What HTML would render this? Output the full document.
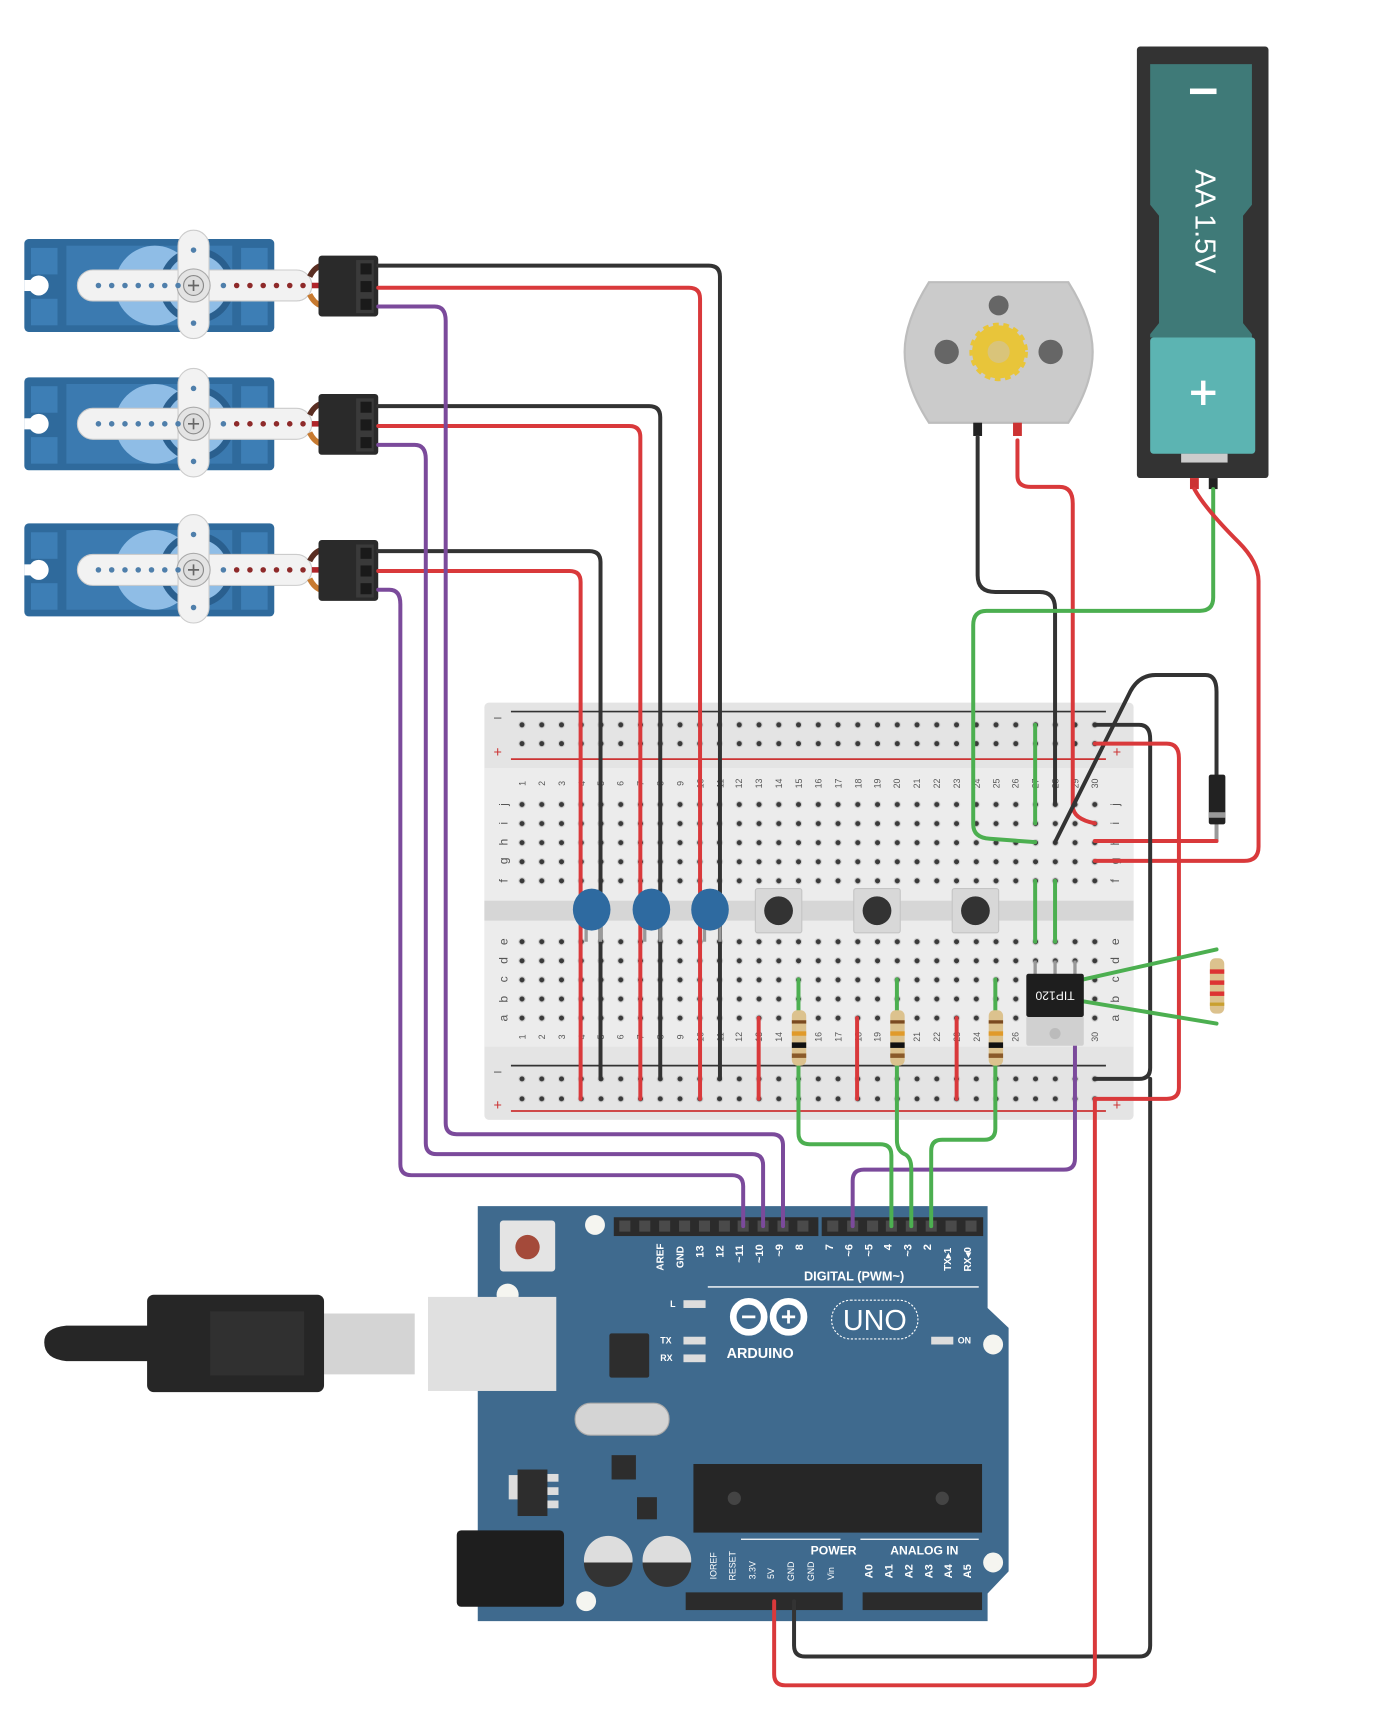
<!DOCTYPE html>
<html><head><meta charset="utf-8"><style>
html,body{margin:0;padding:0;background:#fff;}
svg{display:block;}
text{font-family:"Liberation Sans",sans-serif;}
</style></head><body>
<svg width="1399" height="1734" viewBox="0 0 1265 1567" preserveAspectRatio="none" xmlns="http://www.w3.org/2000/svg">
<defs>
<pattern id="pr1" patternUnits="userSpaceOnUse" x="463.07" y="646.5" width="17.86" height="17"><circle cx="8.93" cy="8.5" r="3.3" fill="#cfcfcf"/><circle cx="8.93" cy="8.5" r="2.3" fill="#3a3a3a"/></pattern>
<pattern id="pr2" patternUnits="userSpaceOnUse" x="463.07" y="718.4" width="17.86" height="17.25"><circle cx="8.93" cy="8.6" r="3.3" fill="#cfcfcf"/><circle cx="8.93" cy="8.6" r="2.3" fill="#3a3a3a"/></pattern>
<pattern id="pr3" patternUnits="userSpaceOnUse" x="463.07" y="842.4" width="17.86" height="17.25"><circle cx="8.93" cy="8.6" r="3.3" fill="#cfcfcf"/><circle cx="8.93" cy="8.6" r="2.3" fill="#3a3a3a"/></pattern>
<pattern id="pr4" patternUnits="userSpaceOnUse" x="463.07" y="966" width="17.86" height="18"><circle cx="8.93" cy="9" r="3.3" fill="#cfcfcf"/><circle cx="8.93" cy="9" r="2.3" fill="#3a3a3a"/></pattern>
<g id="servo">
<rect x="22" y="216" width="226" height="84" rx="4" fill="#2f6a9c"/>
<rect x="60" y="222" width="150" height="72" fill="#3b7ab0"/>
<rect x="28" y="224" width="24" height="24" fill="#3d7eb5"/><rect x="28" y="270" width="24" height="24" fill="#3d7eb5"/>
<rect x="218" y="224" width="24" height="24" fill="#3d7eb5"/><rect x="218" y="270" width="24" height="24" fill="#3d7eb5"/>
<circle cx="35" cy="258" r="9" fill="#fff"/><rect x="22" y="253" width="12" height="10" fill="#fff"/>
<circle cx="140" cy="258" r="36" fill="#8fbde6"/><circle cx="178" cy="258" r="34" fill="#2a5f8e"/><circle cx="178" cy="258" r="28" fill="#8fbde6"/>
<rect x="70" y="244" width="212" height="28" rx="14" fill="#f2f2f2" stroke="#ccc"/>
<rect x="161" y="208" width="28" height="98" rx="14" fill="#f2f2f2" stroke="#ccc"/>
<circle cx="175" cy="258" r="15" fill="#e4e4e4" stroke="#aaa"/><circle cx="175" cy="258" r="9" fill="#ddd" stroke="#888"/>
<path d="M170 258h10M175 253v10" stroke="#666" stroke-width="1.5"/>
<g fill="#4f7fab"><circle cx="89" cy="258" r="2.5"/><circle cx="101" cy="258" r="2.5"/><circle cx="113" cy="258" r="2.5"/><circle cx="125" cy="258" r="2.5"/><circle cx="137" cy="258" r="2.5"/><circle cx="149" cy="258" r="2.5"/><circle cx="161" cy="258" r="2.5"/><circle cx="202" cy="258" r="2.5"/><circle cx="175" cy="226" r="2.5"/><circle cx="175" cy="292" r="2.5"/></g>
<g fill="#8e2a2a"><circle cx="214" cy="258" r="2.5"/><circle cx="226" cy="258" r="2.5"/><circle cx="238" cy="258" r="2.5"/><circle cx="250" cy="258" r="2.5"/><circle cx="262" cy="258" r="2.5"/><circle cx="274" cy="258" r="2.5"/></g>
<path d="M280 250 Q284 242 290 240" stroke="#5a2e22" stroke-width="5" fill="none"/>
<path d="M282 258 H290" stroke="#b0252a" stroke-width="5"/>
<path d="M280 266 Q284 274 290 276" stroke="#c77a30" stroke-width="5" fill="none"/>
<rect x="288" y="231" width="54" height="55" rx="3" fill="#2a2a2a"/>
<rect x="322" y="235" width="16" height="48" fill="#3a3a3a"/>
<rect x="326" y="238" width="10" height="10" fill="#1a1a1a"/><rect x="326" y="254" width="10" height="10" fill="#1a1a1a"/><rect x="326" y="270" width="10" height="10" fill="#1a1a1a"/>
</g>
</defs>

<use href="#servo"/>
<use href="#servo" transform="translate(0,125)"/>
<use href="#servo" transform="translate(0,257)"/>

<path d="M840 255 H966 Q988 290 988 318 Q988 348 966 382 H840 Q818 348 818 318 Q818 290 840 255Z" fill="#cbcbcb" stroke="#bdbdbd" stroke-width="2"/>
<circle cx="903" cy="276" r="9" fill="#666"/><circle cx="856" cy="318" r="11" fill="#666"/><circle cx="950" cy="318" r="11" fill="#666"/>
<circle cx="903" cy="318" r="24" fill="#e8c53a" stroke="#e8c53a" stroke-width="5" stroke-dasharray="5 4"/>
<circle cx="903" cy="318" r="10" fill="#d9c47a"/>
<rect x="880" y="382" width="8" height="12" fill="#222"/><rect x="916" y="382" width="8" height="12" fill="#c33"/>

<rect x="1028" y="42" width="119" height="390" rx="3" fill="#333"/>
<path d="M1045 58 H1132 V185 L1124 195 V292 L1132 302 V305 H1040 V302 L1048 292 V195 L1040 185 V58Z" fill="#3f7a78"/>
<rect x="1040" y="305" width="95" height="105" rx="3" fill="#5cb4b2"/>
<rect x="1068" y="410" width="42" height="8" fill="#ccc"/>
<rect x="1076" y="80" width="24" height="5" fill="#fff"/>
<text x="1088" y="200" transform="rotate(90 1088 200)" text-anchor="middle" dominant-baseline="middle" font-size="26" fill="#fff">AA 1.5V</text>
<path d="M1077 355 H1099 M1088 344 V366" stroke="#fff" stroke-width="4"/>
<rect x="1076" y="432" width="8" height="10" fill="#c33"/><rect x="1093" y="432" width="8" height="10" fill="#222"/>

<rect x="438" y="635" width="587" height="377" rx="4" fill="#e4e4e4"/>
<rect x="438" y="694" width="587" height="120" fill="#ececec"/>
<rect x="438" y="814" width="587" height="18" fill="#d6d6d6"/>
<rect x="438" y="832" width="587" height="114" fill="#ececec"/>
<path d="M462 643 H1000" stroke="#333" stroke-width="1.5"/>
<path d="M462 686 H1000" stroke="#c33" stroke-width="1.5"/>
<path d="M462 963 H1000" stroke="#333" stroke-width="1.5"/>
<path d="M462 1004 H1000" stroke="#c33" stroke-width="1.5"/>
<text x="450" y="652" font-size="12" fill="#444" text-anchor="middle">–</text>
<text x="450" y="684" font-size="13" fill="#c33" text-anchor="middle">+</text>
<text x="450" y="972" font-size="12" fill="#444" text-anchor="middle">–</text>
<text x="450" y="1003" font-size="13" fill="#c33" text-anchor="middle">+</text>
<text x="1010" y="684" font-size="13" fill="#c33" text-anchor="middle">+</text>
<text x="1010" y="1003" font-size="13" fill="#c33" text-anchor="middle">+</text>
<rect x="463" y="646.5" width="536" height="34" fill="url(#pr1)"/>
<rect x="463" y="718.4" width="536" height="86.25" fill="url(#pr2)"/>
<rect x="463" y="842.4" width="536" height="86.25" fill="url(#pr3)"/>
<rect x="463" y="966" width="536" height="36" fill="url(#pr4)"/>
<g font-size="8" fill="#555" text-anchor="middle">
<g id="nums">
<text x="472" y="711" transform="rotate(-90 472 708)">1</text><text x="490" y="711" transform="rotate(-90 490 708)">2</text><text x="508" y="711" transform="rotate(-90 508 708)">3</text><text x="526" y="711" transform="rotate(-90 526 708)">4</text><text x="543" y="711" transform="rotate(-90 543 708)">5</text><text x="561" y="711" transform="rotate(-90 561 708)">6</text><text x="579" y="711" transform="rotate(-90 579 708)">7</text><text x="597" y="711" transform="rotate(-90 597 708)">8</text><text x="615" y="711" transform="rotate(-90 615 708)">9</text><text x="633" y="711" transform="rotate(-90 633 708)">10</text><text x="651" y="711" transform="rotate(-90 651 708)">11</text><text x="668" y="711" transform="rotate(-90 668 708)">12</text><text x="686" y="711" transform="rotate(-90 686 708)">13</text><text x="704" y="711" transform="rotate(-90 704 708)">14</text><text x="722" y="711" transform="rotate(-90 722 708)">15</text><text x="740" y="711" transform="rotate(-90 740 708)">16</text><text x="758" y="711" transform="rotate(-90 758 708)">17</text><text x="776" y="711" transform="rotate(-90 776 708)">18</text><text x="793" y="711" transform="rotate(-90 793 708)">19</text><text x="811" y="711" transform="rotate(-90 811 708)">20</text><text x="829" y="711" transform="rotate(-90 829 708)">21</text><text x="847" y="711" transform="rotate(-90 847 708)">22</text><text x="865" y="711" transform="rotate(-90 865 708)">23</text><text x="883" y="711" transform="rotate(-90 883 708)">24</text><text x="901" y="711" transform="rotate(-90 901 708)">25</text><text x="918" y="711" transform="rotate(-90 918 708)">26</text><text x="936" y="711" transform="rotate(-90 936 708)">27</text><text x="954" y="711" transform="rotate(-90 954 708)">28</text><text x="972" y="711" transform="rotate(-90 972 708)">29</text><text x="990" y="711" transform="rotate(-90 990 708)">30</text>
</g>
<use href="#nums" transform="translate(0,229)"/>
</g>
<g font-size="11" fill="#555" text-anchor="middle">
<text x="455" y="731" transform="rotate(-90 455 727)">j</text><text x="455" y="748" transform="rotate(-90 455 744)">i</text><text x="455" y="765" transform="rotate(-90 455 761)">h</text><text x="455" y="782" transform="rotate(-90 455 778)">g</text><text x="455" y="800" transform="rotate(-90 455 796)">f</text>
<text x="455" y="855" transform="rotate(-90 455 851)">e</text><text x="455" y="872" transform="rotate(-90 455 868)">d</text><text x="455" y="889" transform="rotate(-90 455 885)">c</text><text x="455" y="907" transform="rotate(-90 455 903)">b</text><text x="455" y="924" transform="rotate(-90 455 920)">a</text>
<text x="1008" y="731" transform="rotate(-90 1008 727)">j</text><text x="1008" y="748" transform="rotate(-90 1008 744)">i</text><text x="1008" y="765" transform="rotate(-90 1008 761)">h</text><text x="1008" y="782" transform="rotate(-90 1008 778)">g</text><text x="1008" y="800" transform="rotate(-90 1008 796)">f</text>
<text x="1008" y="855" transform="rotate(-90 1008 851)">e</text><text x="1008" y="872" transform="rotate(-90 1008 868)">d</text><text x="1008" y="889" transform="rotate(-90 1008 885)">c</text><text x="1008" y="907" transform="rotate(-90 1008 903)">b</text><text x="1008" y="924" transform="rotate(-90 1008 920)">a</text>
</g>

<path d="M432 1090 H893 V1182 L912 1200 V1420 L893 1440 V1465 H432Z" fill="#3f6a8e"/>
<rect x="555" y="1100" width="185" height="17" fill="#2b2b2b"/><rect x="743" y="1100" width="146" height="17" fill="#2b2b2b"/>
<g fill="#4a4a4a">
<rect x="560" y="1103" width="10" height="10"/><rect x="578" y="1103" width="10" height="10"/><rect x="596" y="1103" width="10" height="10"/><rect x="614" y="1103" width="10" height="10"/><rect x="632" y="1103" width="10" height="10"/><rect x="650" y="1103" width="10" height="10"/><rect x="667" y="1103" width="10" height="10"/><rect x="685" y="1103" width="10" height="10"/><rect x="703" y="1103" width="10" height="10"/><rect x="721" y="1103" width="10" height="10"/>
<rect x="748" y="1103" width="10" height="10"/><rect x="766" y="1103" width="10" height="10"/><rect x="784" y="1103" width="10" height="10"/><rect x="801" y="1103" width="10" height="10"/><rect x="819" y="1103" width="10" height="10"/><rect x="837" y="1103" width="10" height="10"/><rect x="855" y="1103" width="10" height="10"/><rect x="873" y="1103" width="10" height="10"/>
</g>
<rect x="620" y="1439" width="142" height="16" fill="#2b2b2b"/><rect x="780" y="1439" width="108" height="16" fill="#2b2b2b"/>
<g fill="#fff" font-size="10" font-weight="bold">
<text x="604" y="1140" transform="rotate(-90 600 1140)" text-anchor="middle" font-size="9">AREF</text>
<text x="622" y="1140" transform="rotate(-90 618 1140)" text-anchor="middle" font-size="9">GND</text>
<text x="640" y="1135" transform="rotate(-90 636 1135)" text-anchor="middle">13</text>
<text x="658" y="1135" transform="rotate(-90 654 1135)" text-anchor="middle">12</text>
<text x="676" y="1137" transform="rotate(-90 672 1137)" text-anchor="middle">~11</text>
<text x="694" y="1137" transform="rotate(-90 690 1137)" text-anchor="middle">~10</text>
<text x="712" y="1134" transform="rotate(-90 708 1134)" text-anchor="middle">~9</text>
<text x="730" y="1131" transform="rotate(-90 726 1131)" text-anchor="middle">8</text>
<text x="757" y="1131" transform="rotate(-90 753 1131)" text-anchor="middle">7</text>
<text x="775" y="1134" transform="rotate(-90 771 1134)" text-anchor="middle">~6</text>
<text x="793" y="1134" transform="rotate(-90 789 1134)" text-anchor="middle">~5</text>
<text x="810" y="1131" transform="rotate(-90 806 1131)" text-anchor="middle">4</text>
<text x="828" y="1134" transform="rotate(-90 824 1134)" text-anchor="middle">~3</text>
<text x="846" y="1131" transform="rotate(-90 842 1131)" text-anchor="middle">2</text>
<text x="864" y="1142" transform="rotate(-90 860 1142)" text-anchor="middle" font-size="9">TX▸1</text>
<text x="882" y="1142" transform="rotate(-90 878 1142)" text-anchor="middle" font-size="9">RX◂0</text>
<text x="727" y="1157" font-size="11.5">DIGITAL (PWM~)</text>
<text x="606" y="1181" font-size="8">L</text><text x="597" y="1214" font-size="8">TX</text><text x="597" y="1230" font-size="8">RX</text>
<text x="866" y="1214" font-size="8">ON</text>
<text x="657" y="1227" font-size="13">ARDUINO</text>
<text x="733" y="1405" font-size="11">POWER</text>
<text x="805" y="1405" font-size="11">ANALOG IN</text>
<g font-size="8" font-weight="normal">
<text x="651" y="1418" transform="rotate(-90 648 1418)" text-anchor="middle">IOREF</text>
<text x="668" y="1418" transform="rotate(-90 665 1418)" text-anchor="middle">RESET</text>
<text x="686" y="1422" transform="rotate(-90 683 1422)" text-anchor="middle">3.3V</text>
<text x="703" y="1425" transform="rotate(-90 700 1425)" text-anchor="middle">5V</text>
<text x="721" y="1423" transform="rotate(-90 718 1423)" text-anchor="middle">GND</text>
<text x="739" y="1423" transform="rotate(-90 736 1423)" text-anchor="middle">GND</text>
<text x="757" y="1425" transform="rotate(-90 754 1425)" text-anchor="middle">Vin</text>
</g>
<g font-size="10">
<text x="793" y="1424" transform="rotate(-90 789 1424)" text-anchor="middle">A0</text>
<text x="811" y="1424" transform="rotate(-90 807 1424)" text-anchor="middle">A1</text>
<text x="829" y="1424" transform="rotate(-90 825 1424)" text-anchor="middle">A2</text>
<text x="847" y="1424" transform="rotate(-90 843 1424)" text-anchor="middle">A3</text>
<text x="865" y="1424" transform="rotate(-90 861 1424)" text-anchor="middle">A4</text>
<text x="882" y="1424" transform="rotate(-90 878 1424)" text-anchor="middle">A5</text>
</g>
</g>
<path d="M640 1163 H885 M670 1391 H760 M778 1391 H885" stroke="#fff" stroke-width="1.2"/>
<g fill="none" stroke="#fff" stroke-width="6"><circle cx="677" cy="1190" r="14"/><circle cx="713" cy="1190" r="14"/></g>
<path d="M671 1190 H683 M707 1190 H719 M713 1184 V1196" stroke="#fff" stroke-width="2.5"/>
<rect x="752" y="1175" width="78" height="35" rx="17" fill="none" stroke="#fff" stroke-dasharray="2 1.5"/>
<text x="791" y="1202" text-anchor="middle" font-size="26" fill="#fff">UNO</text>
<rect x="618" y="1175" width="20" height="7" fill="#ddd"/><rect x="618" y="1208" width="20" height="7" fill="#ddd"/><rect x="618" y="1224" width="20" height="7" fill="#ddd"/><rect x="842" y="1208" width="20" height="7" fill="#ddd"/>
<g fill="#f5f5f0"><circle cx="538" cy="1107" r="9"/><circle cx="898" cy="1215" r="9"/><circle cx="898" cy="1412" r="9"/><circle cx="530" cy="1447" r="9"/><circle cx="459" cy="1170" r="10"/></g>
<rect x="452" y="1103" width="50" height="46" rx="3" fill="#e4e4e4"/><circle cx="477" cy="1127" r="11" fill="#a44a3a"/>
<rect x="387" y="1172" width="116" height="85" fill="#e0e0e0"/>
<rect x="293" y="1187" width="82" height="55" fill="#d4d4d4"/>
<rect x="133" y="1170" width="160" height="88" rx="6" fill="#262626"/>
<rect x="190" y="1185" width="85" height="58" fill="#303030"/>
<path d="M40 1213 Q40 1200 60 1198 H135 V1230 H60 Q40 1228 40 1213Z" fill="#262626"/>
<rect x="551" y="1205" width="36" height="40" rx="2" fill="#2d2d2d"/>
<rect x="520" y="1268" width="85" height="29" rx="14" fill="#d4d4d4" stroke="#aaa"/>
<rect x="553" y="1315" width="22" height="22" fill="#2d2d2d"/>
<rect x="460" y="1333" width="10" height="22" fill="#ddd"/><rect x="468" y="1328" width="27" height="42" fill="#2d2d2d"/>
<rect x="495" y="1332" width="10" height="7" fill="#ddd"/><rect x="495" y="1344" width="10" height="7" fill="#ddd"/><rect x="495" y="1356" width="10" height="7" fill="#ddd"/>
<rect x="576" y="1353" width="18" height="20" fill="#2d2d2d"/>
<rect x="627" y="1323" width="261" height="62" fill="#262626"/>
<circle cx="664" cy="1354" r="6" fill="#444"/><circle cx="852" cy="1354" r="6" fill="#444"/>
<circle cx="550" cy="1410" r="22" fill="#ddd"/><path d="M528 1412 A22 22 0 0 0 572 1412Z" fill="#333"/>
<circle cx="603" cy="1410" r="22" fill="#ddd"/><path d="M581 1412 A22 22 0 0 0 625 1412Z" fill="#333"/>
<rect x="413" y="1383" width="97" height="69" rx="4" fill="#1e1e1e"/>

<g fill="none" stroke-width="3.6" stroke-linecap="round" stroke-linejoin="round">
<path stroke="#333" d="M342 240 H641 Q651 240 651 250 V975"/>
<path stroke="#d9393b" d="M342 260 H623 Q633 260 633 270 V993"/>
<path stroke="#333" d="M342 367 H587 Q597 367 597 377 V975"/>
<path stroke="#d9393b" d="M342 385 H569 Q579 385 579 395 V993"/>
<path stroke="#333" d="M342 498 H533 Q543 498 543 508 V975"/>
<path stroke="#d9393b" d="M342 516 H515 Q525 516 525 526 V993"/>
<path stroke="#7b4a9b" d="M342 277 H393 Q403 277 403 290 V1015 Q403 1025 413 1025 H698 Q708 1025 708 1035 V1108"/>
<path stroke="#7b4a9b" d="M342 402 H375 Q385 402 385 415 V1033 Q385 1043 395 1043 H680 Q690 1043 690 1053 V1108"/>
<path stroke="#7b4a9b" d="M342 533 H352 Q362 533 362 546 V1052 Q362 1062 372 1062 H662 Q672 1062 672 1072 V1108"/>
<path stroke="#7b4a9b" d="M972 945 V1047 Q972 1057 962 1057 H781 Q771 1057 771 1067 V1108"/>
<path stroke="#d9393b" d="M686 920 V993 M775 920 V993 M865 920 V993"/>
<path stroke="#4caf50" d="M722 885 V1024 Q722 1034 732 1034 H796 Q806 1034 806 1044 V1108"/>
<path stroke="#4caf50" d="M811 885 V1030 Q811 1040 818 1043 Q824 1046 824 1056 V1108"/>
<path stroke="#4caf50" d="M900 885 V1020 Q900 1030 890 1030 H852 Q842 1030 842 1040 V1108"/>
<path stroke="#333" d="M884 395 V520 Q884 535 900 535 H940 Q954 535 954 550 V727"/>
<path stroke="#d9393b" d="M920 398 V430 Q920 440 932 440 H958 Q970 440 970 455 V728 Q970 740 990 744"/>
<path stroke="#4caf50" d="M1097 442 V540 Q1097 552 1085 552 H892 Q880 552 880 565 V745 Q880 757 895 758 L936 761"/>
<path stroke="#d9393b" d="M1080 442 Q1090 460 1120 490 Q1138 508 1138 525 V765 Q1138 778 1125 778 H990"/>
<path stroke="#333" d="M954 761 L1022 625 Q1030 610 1045 610 H1090 Q1100 610 1100 625 V700"/>
<path stroke="#999" d="M1100 745 V760"/>
<path stroke="#d9393b" d="M1100 760 H990"/>
<path stroke="#4caf50" d="M936 655 V744 M936 796 V851 M954 796 V851"/>
<path stroke="#333" d="M990 655 H1030 Q1040 655 1040 668 V965 Q1040 975 1030 975 H990"/>
<path stroke="#333" d="M1040 975 V1487 Q1040 1497 1030 1497 H728 Q718 1497 718 1487 V1447"/>
<path stroke="#d9393b" d="M990 672 H1055 Q1066 672 1066 685 V983 Q1066 993 1055 993 H990"/>
<path stroke="#d9393b" d="M990 993 V1513 Q990 1523 980 1523 H710 Q700 1523 700 1513 V1447"/>
<path stroke="#4caf50" d="M980 885 L1100 858 M980 905 L1100 925"/>
</g>

<rect x="1093" y="700" width="15" height="45" rx="2" fill="#222"/><rect x="1093" y="734" width="15" height="5" fill="#999"/>

<g stroke="#999" stroke-width="3"><path d="M530 835 V851 M543 835 V851 M583 835 V851 M597 835 V851 M637 835 V851 M651 835 V851"/></g>
<g fill="#2e6aa0"><ellipse cx="535" cy="822" rx="17" ry="19"/><ellipse cx="589" cy="822" rx="17" ry="19"/><ellipse cx="642" cy="822" rx="17" ry="19"/></g>

<g>
<rect x="683" y="803" width="42" height="40" rx="2" fill="#d8d8d8" stroke="#c4c4c4"/><circle cx="704" cy="823" r="13" fill="#333"/>
<rect x="772" y="803" width="42" height="40" rx="2" fill="#d8d8d8" stroke="#c4c4c4"/><circle cx="793" cy="823" r="13" fill="#333"/>
<rect x="861" y="803" width="42" height="40" rx="2" fill="#d8d8d8" stroke="#c4c4c4"/><circle cx="882" cy="823" r="13" fill="#333"/>
</g>

<g>
<rect x="716" y="913" width="13" height="50" rx="5" fill="#dcc28e"/><rect x="716" y="922" width="13" height="3" fill="#7a4a20"/><rect x="716" y="932" width="13" height="4" fill="#e09a2a"/><rect x="716" y="942" width="13" height="5" fill="#111"/><rect x="716" y="952" width="13" height="4" fill="#8a5a2a"/>
<rect x="805" y="913" width="13" height="50" rx="5" fill="#dcc28e"/><rect x="805" y="922" width="13" height="3" fill="#7a4a20"/><rect x="805" y="932" width="13" height="4" fill="#e09a2a"/><rect x="805" y="942" width="13" height="5" fill="#111"/><rect x="805" y="952" width="13" height="4" fill="#8a5a2a"/>
<rect x="894" y="913" width="13" height="50" rx="5" fill="#dcc28e"/><rect x="894" y="922" width="13" height="3" fill="#7a4a20"/><rect x="894" y="932" width="13" height="4" fill="#e09a2a"/><rect x="894" y="942" width="13" height="5" fill="#111"/><rect x="894" y="952" width="13" height="4" fill="#8a5a2a"/>
<rect x="1094" y="866" width="13" height="50" rx="5" fill="#dcc28e"/><rect x="1094" y="876" width="13" height="4" fill="#d33"/><rect x="1094" y="886" width="13" height="4" fill="#d33"/><rect x="1094" y="896" width="13" height="4" fill="#d33"/><rect x="1094" y="906" width="13" height="3" fill="#c9a030"/>
</g>

<path d="M936 868 V882 M954 868 V882 M972 868 V882" stroke="#999" stroke-width="3"/>
<rect x="928" y="918" width="52" height="27" rx="2" fill="#d0d0d0"/>
<circle cx="954" cy="934" r="5" fill="#bbb"/>
<rect x="928" y="880" width="52" height="39" rx="2" fill="#1e1e1e"/>
<text x="954" y="904" transform="rotate(180 954 900)" text-anchor="middle" font-size="11" fill="#fff">TIP120</text>
</svg>
</body></html>
